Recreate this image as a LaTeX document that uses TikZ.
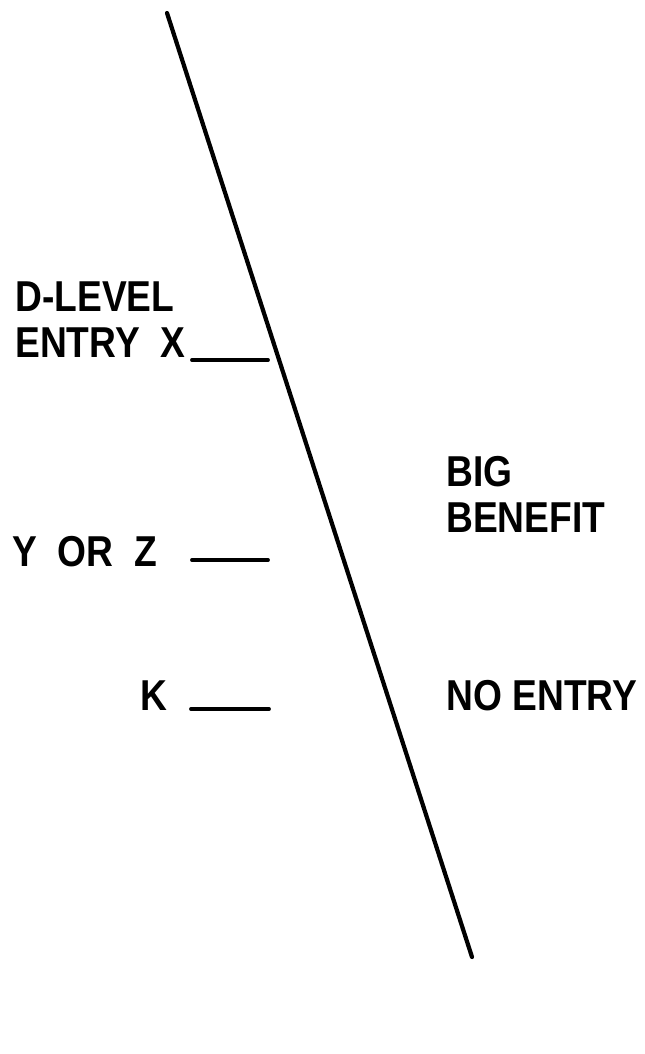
\documentclass[tikz,border=0pt]{standalone}
\usepackage{fontspec}
\setmainfont{Liberation Sans}[FakeStretch=0.86]
\usepackage{tikz}
\usetikzlibrary{positioning}

\begin{document}
\begin{tikzpicture}[x=0.02cm, y=-0.02cm,
  every node/.style={font=\fontsize{24.6}{26}\selectfont\bfseries, inner sep=0pt, anchor=base west, align=left},
  slope/.style={line width=2.4pt, line cap=round},
  tick/.style={line width=2.2pt, line cap=round}]
\useasboundingbox (0,0) rectangle (645,1054);
% sloping line
\coordinate (top) at (167,13);
\coordinate (bot) at (472,957);
\draw[slope] (top) -- (bot);
% left labels
\node (dlevel) at (15,357) {D-LEVEL\\ENTRY\ \ X};
\node (yorz) at (12,566) {Y\ \ OR\ \ Z};
\node (kay) at (140,710) {K};
% ticks
\coordinate (xa) at (192,360); \coordinate (xb) at (268,360);
\coordinate (ya) at (192,560); \coordinate (yb) at (268,560);
\coordinate (ka) at (191,709); \coordinate (kb) at (269,709);
\draw[tick] (xa) -- (xb);
\draw[tick] (ya) -- (yb);
\draw[tick] (ka) -- (kb);
% right labels
\node (benefit) at (446,532) {BIG\\BENEFIT};
\node (noentry) at (446,710) {NO ENTRY};
\end{tikzpicture}
\end{document}
